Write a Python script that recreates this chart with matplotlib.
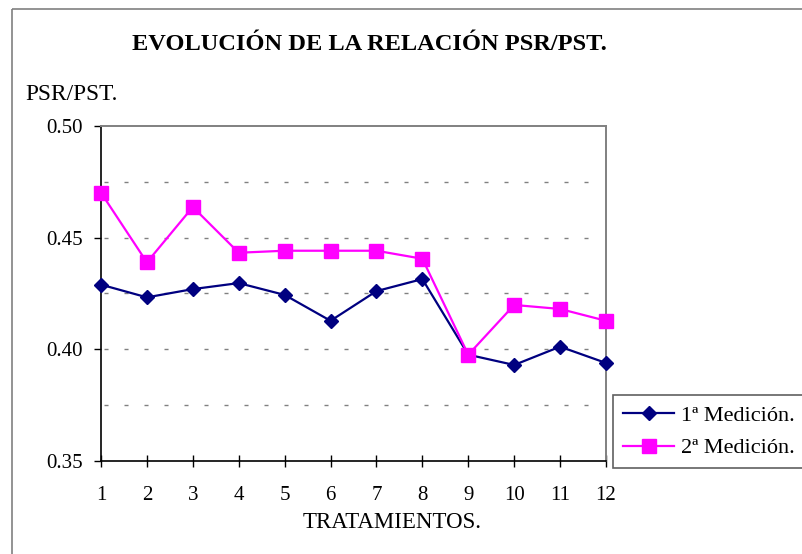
import numpy as np
import matplotlib
matplotlib.use("Agg")
import matplotlib.pyplot as plt
from matplotlib.patches import Rectangle

# Data
tratamientos = [1, 2, 3, 4, 5, 6, 7, 8, 9, 10, 11, 12]
medicion_1 = [0.4289, 0.4232, 0.4269, 0.4296, 0.4243, 0.4127,
              0.4260, 0.4314, 0.3975, 0.3929, 0.4011, 0.3938]
medicion_2 = [0.4701, 0.4389, 0.4637, 0.4432, 0.4441, 0.4441,
              0.4441, 0.4405, 0.3975, 0.4198, 0.4180, 0.4127]
y_ticks = [0.35, 0.40, 0.45, 0.50]
grid_levels = [0.375, 0.40, 0.425, 0.45, 0.475]
labels = ["1ª Medición.", "2ª Medición."]

plt.rcParams['font.family'] = ['Liberation Serif', 'DejaVu Serif']

W, H = 802, 554
fig = plt.figure(figsize=(W/100, H/100), dpi=100)

# outer frame (runs off the right and bottom edges)
fig.patches.append(Rectangle((12/W, 1-9/H), 1.0, -1.1, transform=fig.transFigure,
                             fill=False, edgecolor='#808080', lw=1.2))

ax = fig.add_axes([101/W, 1-460.7/H, (606-101)/W, (460.7-126)/H])

for lvl in grid_levels:
    ax.axhline(lvl, xmin=0.005, xmax=0.98, color='#808080', lw=1.0,
               dashes=(2.9, 11.5), zorder=1)

ax.plot(tratamientos, medicion_1, color='#000080', lw=1.6, marker='D',
        ms=7.5, label=labels[0], zorder=3)
ax.plot(tratamientos, medicion_2, color='#FF00FF', lw=1.6, marker='s',
        ms=9.5, label=labels[1], zorder=4)

ax.set_xlim(1, 12)
ax.set_ylim(0.35, 0.50)
ax.set_xticks(tratamientos)
ax.set_yticks(y_ticks)
ax.set_yticklabels([f"{v:.2f}" for v in y_ticks])
ax.tick_params(axis='y', direction='out', length=5, width=1, pad=8, labelsize=15)
ax.tick_params(axis='x', direction='inout', length=9, width=1, pad=14, labelsize=15)

for s in ['left', 'bottom']:
    ax.spines[s].set_color('black')
    ax.spines[s].set_linewidth(1.2)
for s in ['top', 'right']:
    ax.spines[s].set_color('#808080')
    ax.spines[s].set_linewidth(1.4)

for line in ax.lines:
    line.set_clip_on(False)

leg = fig.legend(loc='upper left', bbox_to_anchor=(613/W, 1-395/H),
                 fontsize=16, frameon=True, fancybox=False, edgecolor='#606060',
                 handlelength=2.3, handletextpad=0.3, labelspacing=0.55,
                 borderpad=0.45, borderaxespad=0, framealpha=1)
leg.get_frame().set_linewidth(1.2)

fig.text(369/W, 1-44/H, "EVOLUCIÓN DE LA RELACIÓN PSR/PST.", ha='center',
         va='center', fontsize=17.6, fontweight='bold')
fig.text(25/W, 1-95/H, "PSR/PST.", ha='left', va='center', fontsize=16.8)
fig.text(392/W, 1-523/H, "TRATAMIENTOS.", ha='center', va='center', fontsize=16.5)

fig.savefig("out.png", dpi=100)
